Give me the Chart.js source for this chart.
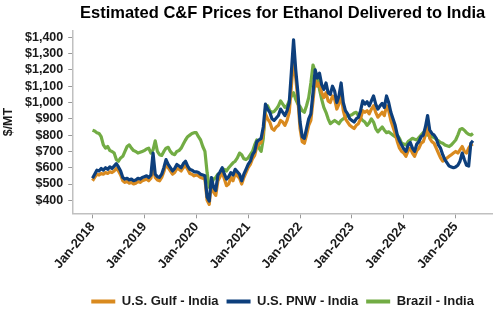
<!DOCTYPE html>
<html><head><meta charset="utf-8">
<script src="https://cdn.jsdelivr.net/npm/chart.js@4"></script>
<style>html,body{margin:0;padding:0;background:#fff}#wrap{width:500px;height:330px}</style>
</head><body><div id="wrap"><canvas id="c" width="500" height="330"></canvas></div>
<script>
const startYear = 2018;
const stepsPerYear = 24; // semi-monthly observations
const xTickYears = [2018, 2019, 2020, 2021, 2022, 2023, 2024, 2025];
const yTickValues = [400, 500, 600, 700, 800, 900, 1000, 1100, 1200, 1300, 1400];
const seriesNames = ['U.S. Gulf - India', 'U.S. PNW - India', 'Brazil - India'];

const gulfIndia = [
  520, 540, 560, 555, 565, 560, 570, 565, 575, 570, 580, 595, 580, 555, 520, 510, 515, 505, 510, 500, 505, 515, 510, 520,
  525, 530, 520, 535, 600, 540, 525, 520, 540, 575, 625, 600, 580, 560, 570, 595, 590, 580, 600, 615, 590, 565, 560, 550,
  555, 550, 540, 535, 530, 400, 375, 510, 450, 430, 520, 545, 575, 530, 490, 500, 540, 520, 565, 550, 535, 500, 540, 570,
  600, 620, 655, 675, 730, 745, 755, 815, 930, 900, 880, 840, 830, 850, 860, 890, 880, 860, 890, 940, 1100, 1270, 1150, 1020,
  840, 760, 750, 800, 860, 890, 1010, 1140, 1100, 1120, 1060, 1030, 1060, 1010, 1000, 1040, 1020, 960, 990, 1060, 950, 900, 880, 860,
  850, 840, 860, 870, 900, 950, 940, 950, 930, 960, 980, 940, 910, 925, 940, 920, 980, 950, 890, 850, 810, 760, 720, 700,
  690, 670, 705, 720, 690, 670, 705, 720, 750, 760, 800, 860, 780, 760, 750, 720, 690, 660, 640, 650, 660, 670, 680, 690,
  700, 690, 710, 730, 700, 690, 720, 740, 745
];
const pnwIndia = [
  535, 560, 585, 580, 595, 585, 600, 590, 605, 595, 610, 625, 605, 580, 540, 530, 535, 525, 530, 520, 525, 535, 530, 540,
  545, 550, 540, 555, 690, 560, 545, 540, 560, 600, 650, 620, 600, 580, 595, 620, 610, 600, 625, 640, 610, 590, 585, 575,
  575, 570, 560, 555, 550, 420, 395, 540, 480, 460, 555, 575, 600, 560, 530, 545, 570, 555, 590, 575, 560, 520, 560, 590,
  620, 640, 680, 700, 760, 770, 780, 850, 990, 960, 940, 900, 890, 905, 920, 960, 940, 920, 950, 1000, 1190, 1385, 1200, 1060,
  880, 790, 780, 840, 900, 930, 1060, 1200, 1150, 1180, 1110, 1080, 1120, 1060, 1050, 1100, 1070, 1000, 1040, 1120, 1000, 950, 930, 900,
  890, 880, 900, 910, 950, 1010, 990, 1005, 980, 1010, 1040, 990, 960, 980, 995, 970, 1040, 1000, 940, 900, 860, 800, 765, 740,
  715, 700, 740, 755, 720, 700, 745, 760, 790, 800, 850, 920, 830, 810, 800, 780, 740, 720, 680, 650, 630, 610, 605, 600,
  605, 615, 640, 690, 650, 615, 610, 750, 765
];
const brazilIndia = [
  830, 825, 815, 810, 790, 740, 720, 730, 705, 700, 690, 650, 640, 660, 670, 700, 730, 740, 720, 705, 700, 690, 695, 700,
  705, 715, 720, 690, 710, 765, 700, 680, 675, 700, 720, 725, 700, 685, 680, 700, 705, 720, 745, 770, 790, 800, 810, 815,
  815, 790, 770, 730, 700, 570, 480, 500, 530, 540, 560, 555, 570, 590, 580, 600, 615, 630, 640, 660, 690, 680, 655, 650,
  660, 680, 700, 740, 770, 720, 700, 780, 960, 980, 950, 940, 945, 960, 980, 1010, 990, 970, 980, 1010, 1040, 1060, 1020, 990,
  975, 950, 940, 980, 1030, 1120, 1230, 1190, 1160, 1080, 1020, 970, 940, 900, 870, 880, 890, 880, 870, 890, 900, 910, 920, 920,
  925, 935, 940, 920, 905, 890, 880, 860, 875, 900, 880, 840, 820, 835, 850, 830, 815, 820, 810, 800, 790, 800, 780, 750,
  745, 740, 760, 770, 780, 775, 770, 785, 800, 815, 810, 800, 795, 790, 785, 775, 765, 755, 750, 740, 735, 730, 740, 755,
  770, 800, 835, 840, 830, 815, 805, 800, 810
];

const toPoints = arr => arr.map((v, i) => ({ x: startYear + i / stepsPerYear, y: v }));
const fmtDollar = v => '$' + String(v).replace(/\B(?=(\d{3})+(?!\d))/g, ',');
const FONT = 'Liberation Sans, Arial, sans-serif';

new Chart(document.getElementById('c'), {
  type: 'line',
  data: {
    datasets: [
      { label: seriesNames[0], data: toPoints(gulfIndia), borderColor: '#D98A1F', backgroundColor: '#D98A1F', order: 1 },
      { label: seriesNames[1], data: toPoints(pnwIndia), borderColor: '#0D3F7C', backgroundColor: '#0D3F7C', order: 0 },
      { label: seriesNames[2], data: toPoints(brazilIndia), borderColor: '#72AC44', backgroundColor: '#72AC44', order: 2 }
    ]
  },
  options: {
    responsive: false,
    animation: false,
    elements: { point: { radius: 0 }, line: { borderWidth: 3.2, tension: 0, borderJoinStyle: 'round' } },
    layout: { padding: { left: 1, right: 8, top: 2, bottom: 12 } },
    scales: {
      x: {
        type: 'linear', min: 2017.628, max: 2025.70,
        afterBuildTicks: s => { s.ticks = xTickYears.map(v => ({ value: v })); },
        afterFit: s => { s.height += 14; },
        ticks: { callback: v => 'Jan-' + v, minRotation: 50, maxRotation: 50, autoSkip: false,
                 font: { family: FONT, size: 13, weight: 'bold' }, color: '#1a1a1a', padding: 1 },
        grid: { drawOnChartArea: false, tickLength: 5, color: '#999' },
        border: { color: '#c0c0c0', width: 1.5 }
      },
      y: {
        min: 320, max: 1440,
        afterBuildTicks: s => { s.ticks = yTickValues.map(v => ({ value: v })); },
        ticks: { callback: v => fmtDollar(v), autoSkip: false, font: { family: FONT, size: 12.5, weight: 'bold' }, color: '#1a1a1a', padding: 5 },
        grid: { drawOnChartArea: false, tickLength: 5, color: '#999' },
        border: { color: '#c0c0c0', width: 1.5 },
        title: { display: true, text: '$/MT', font: { family: FONT, size: 12.5, weight: 'bold' }, color: '#1a1a1a', padding: { top: 0, bottom: 4 } }
      }
    },
    plugins: {
      title: { display: true, text: 'Estimated C&F Prices for Ethanol Delivered to India', fullSize: false,
               font: { family: FONT, size: 16.5, weight: 'bold' }, color: '#000', padding: { top: 2, bottom: 7 } },
      legend: {
        position: 'bottom', fullSize: false,
        labels: {
          boxWidth: 24, boxHeight: 4, padding: 8,
          font: { family: FONT, size: 13, weight: 'bold' }, color: '#1a1a1a',
          sort: (a, b) => a.datasetIndex - b.datasetIndex,
          generateLabels: chart => Chart.defaults.plugins.legend.labels.generateLabels(chart).map(l => Object.assign(l, { lineWidth: 0 }))
        }
      },
      tooltip: { enabled: false }
    }
  }
});
</script></body></html>
